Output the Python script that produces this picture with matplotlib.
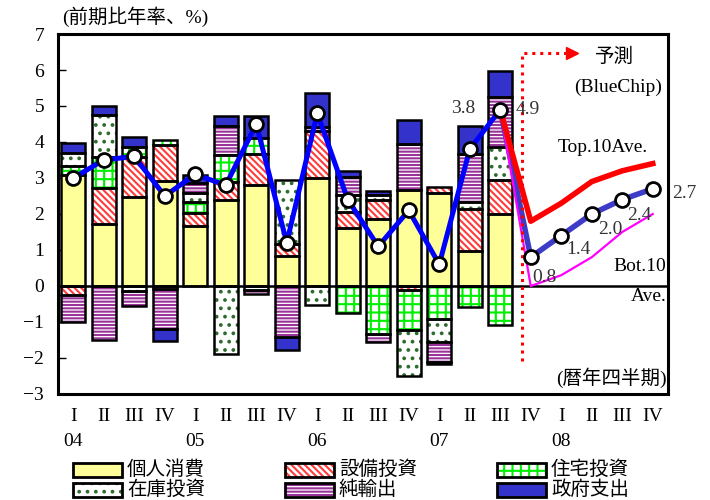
import matplotlib
matplotlib.use("Agg")
import matplotlib.pyplot as plt
from matplotlib.patches import Rectangle
import numpy as np

plt.rcParams['font.family'] = ['Liberation Serif', 'Noto Sans CJK JP']
plt.rcParams['hatch.linewidth'] = 1.5
plt.rcParams['axes.unicode_minus'] = True

# quarterly contributions to real GDP growth (annualised, %), 04Q1-07Q3
quarters = ['I', 'II', 'III', 'IV'] * 5
years = ['04', '05', '06', '07', '08']

consumption = [3.09, 1.72, 2.46, 2.93, 1.68, 2.40, 2.81, 0.82, 2.99, 1.62, 1.86, 2.67, 2.57, 0.98, 2.00]
equipment = [-0.25, 0.99, 1.13, 0.99, 0.34, 0.50, 0.87, 0.35, 1.32, 0.44, 0.53, -0.10, 0.19, 1.16, 0.94]
housing = [0.25, 0.88, 0.26, 0.14, 0.32, 0.74, 0.43, 0.00, 0.00, -0.75, -1.33, -1.12, -0.92, -0.59, -1.07]
inventory = [0.35, 1.16, -0.13, -0.08, 0.23, -1.89, -0.10, 1.78, -0.53, 0.48, 0.15, -1.27, -0.64, 0.18, 0.91]
net_exports = [-0.76, -1.49, -0.42, -1.11, 0.28, 0.81, -0.12, -1.43, 0.12, 0.50, -0.23, 1.28, -0.54, 1.35, 1.39]
government = [0.27, 0.24, 0.30, -0.35, 0.24, 0.26, 0.60, -0.35, 0.93, 0.15, 0.09, 0.65, -0.07, 0.77, 0.74]

gdp = [3.0, 3.5, 3.6, 2.5, 3.1, 2.8, 4.5, 1.2, 4.8, 2.4, 1.1, 2.1, 0.6, 3.8, 4.9]

# Blue Chip consensus, 07Q3 (actual) through 08Q4
forecast_mean = [4.9, 0.8, 1.4, 2.0, 2.4, 2.7]
top10_avg = [4.9, 1.8, 2.3, 2.9, 3.2, 3.4]
bottom10_avg = [4.9, 0.0, 0.3, 0.8, 1.5, 2.0]

series = [
    ('個人消費', consumption, '#FFFF99', None, '#FFFF99'),
    ('設備投資', equipment, 'white', '\\\\\\\\\\', '#FF3B3B'),
    ('住宅投資', housing, 'white', '++', '#00EE00'),
    ('在庫投資', inventory, 'white', '..', '#2F6B2F'),
    ('純輸出', net_exports, 'white', '-----', '#993399'),
    ('政府支出', government, '#3333CC', None, '#3333CC'),
]

fig = plt.figure(figsize=(7.1, 5.0), dpi=100)
ax = fig.add_axes([58 / 710, 106 / 500, 610 / 710, 360 / 500])

n = len(gdp)
x = np.arange(n)
pos_base = np.zeros(n)
neg_base = np.zeros(n)
width = 0.8

for name, vals, face, hatch, hcol in series:
    v = np.array(vals, dtype=float)
    bottoms = np.where(v >= 0, pos_base, neg_base)
    mask = v != 0
    ax.bar(x[mask], v[mask], width, bottom=bottoms[mask], color=face,
           hatch=hatch, edgecolor=hcol, linewidth=0, zorder=2)
    ax.bar(x[mask], v[mask], width, bottom=bottoms[mask], fill=False,
           edgecolor='black', linewidth=1.8, zorder=3)
    pos_base = pos_base + np.where(v > 0, v, 0)
    neg_base = neg_base + np.where(v < 0, v, 0)

ax.axhline(0, color='black', linewidth=1.8, zorder=4)

# forecast paths
fx = np.arange(n - 1, n - 1 + len(forecast_mean))
ax.plot(fx, forecast_mean, color='#3C3CC8', linewidth=4, zorder=5)
ax.plot(fx, bottom10_avg, color='#FF00FF', linewidth=1.6, zorder=6)
ax.plot(fx, top10_avg, color='#FF0000', linewidth=4, zorder=6)

# actual growth
ax.plot(x, gdp, color='#0000FF', linewidth=3.6, zorder=7)
ax.plot(x, gdp, linestyle='none', marker='o', markersize=10,
        markerfacecolor='white', markeredgecolor='black', markeredgewidth=2, zorder=8)
ax.plot(fx[1:], forecast_mean[1:], linestyle='none', marker='o', markersize=10,
        markerfacecolor='white', markeredgecolor='black', markeredgewidth=2, zorder=8)

# forecast marker line
ax.plot([14.71, 14.71, 16.3], [-2.07, 6.47, 6.47], color='#FF0000',
        linestyle=(0, (1, 1.6)), linewidth=2.2, zorder=6)
ax.plot([16.35], [6.47], marker='>', color='#FF0000', markersize=8, zorder=6)

ax.set_xlim(-0.5, 19.5)
ax.set_ylim(-3, 7)
ax.set_yticks(range(-3, 8))
ax.tick_params(axis='y', direction='in', length=6, width=1, labelsize=14, pad=10)
ax.tick_params(axis='x', length=0, labelbottom=False)
for s in ax.spines.values():
    s.set_linewidth(2.2)

# x axis labels
for i, q in enumerate(quarters):
    ax.text(i, -3.62, q, ha='center', va='center', fontsize=14)
for k, y in enumerate(years):
    ax.text(k * 4, -4.32, y, ha='center', va='center', fontsize=14)

# annotations
lab = dict(fontsize=14, color='#333333', zorder=9)
ax.text(12.78, 4.94, '3.8', ha='center', va='center', **lab)
ax.text(14.5, 4.89, '4.9', ha='left', va='center', **lab)
ax.text(15.05, 0.25, '0.8', ha='left', va='center', **lab)
ax.text(16.15, 1.0, '1.4', ha='left', va='center', **lab)
ax.text(17.2, 1.58, '2.0', ha='left', va='center', **lab)
ax.text(18.15, 1.97, '2.4', ha='left', va='center', **lab)
ax.text(19.63, 2.58, '2.7', ha='left', va='center', clip_on=False, **lab)

ax.text(17.76, 6.36, '予測', ha='center', va='center', fontsize=14)
ax.text(17.85, 5.53, '(BlueChip)', ha='center', va='center', fontsize=14)
ax.text(17.37, 3.86, 'Top.10Ave.', ha='center', va='center', fontsize=14)
ax.text(19.45, 0.55, 'Bot.10', ha='right', va='center', fontsize=14)
ax.text(19.45, -0.3, 'Ave.', ha='right', va='center', fontsize=14)
ax.text(19.45, -2.56, '(暦年四半期)', ha='right', va='center', fontsize=14)

fig.text(62 / 710, 1 - 17 / 500, '(前期比年率、%)', ha='left', va='center', fontsize=14)

# legend
cols = [73, 285, 497]
rows = [463, 483]
for idx, (name, vals, face, hatch, hcol) in enumerate(series):
    r, c = divmod(idx, 3)
    x0 = cols[c] / 710
    y0 = 1 - (rows[r] + 14) / 500
    w, h = 49 / 710, 14 / 500
    fig.add_artist(Rectangle((x0, y0), w, h, transform=fig.transFigure,
                             facecolor=face, hatch=hatch, edgecolor=hcol, linewidth=0))
    fig.add_artist(Rectangle((x0, y0), w, h, transform=fig.transFigure,
                             fill=False, edgecolor='black', linewidth=2))
    fig.text((cols[c] + 54) / 710, y0 + h / 2, name, ha='left', va='center', fontsize=14)

fig.savefig('out.png', dpi=100)
